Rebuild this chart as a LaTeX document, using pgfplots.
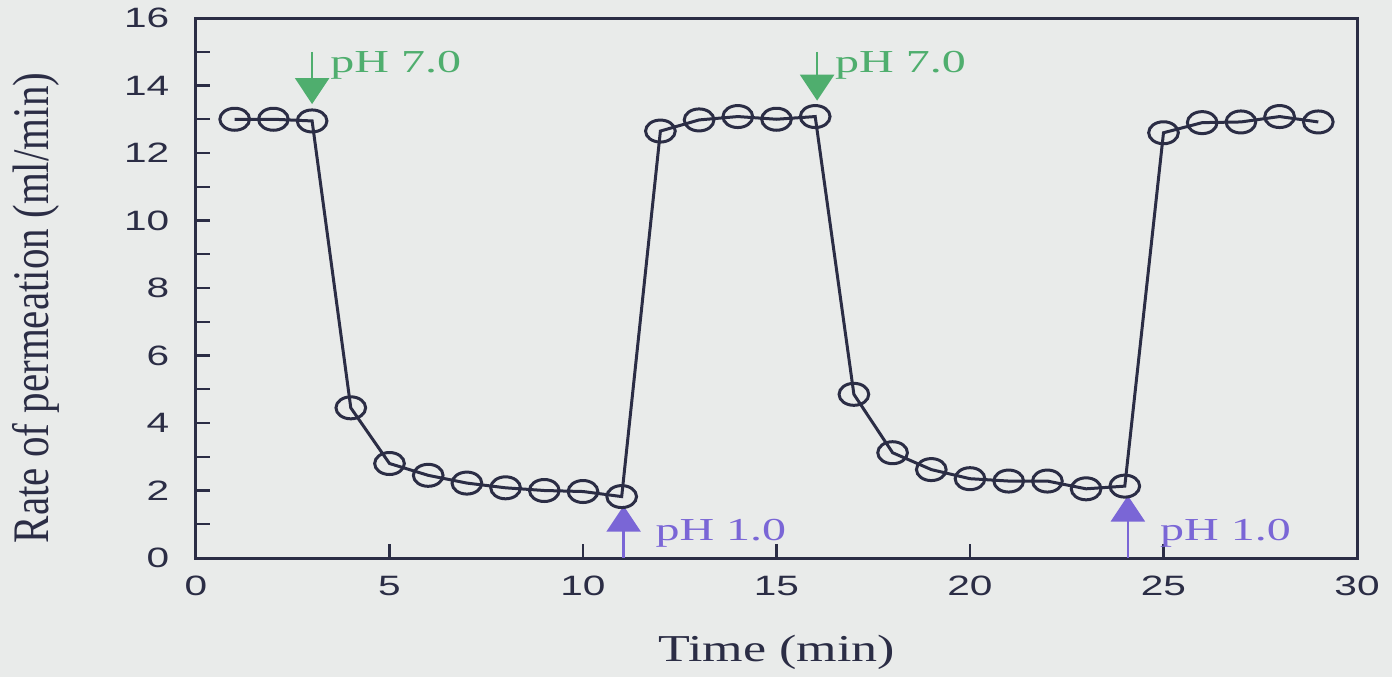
\documentclass[border=0pt]{standalone}
\usepackage{pgfplots}
\pgfplotsset{compat=1.18}
\usetikzlibrary{arrows.meta}
\usepackage{fontspec}
\setmainfont{Liberation Serif}
\newfontfamily\tickfont{Liberation Sans}
\definecolor{bg}{HTML}{E9EBEA}
\definecolor{ink}{HTML}{2B2D45}
\definecolor{grn}{HTML}{4FAE6E}
\definecolor{prp}{HTML}{7A66D6}
\begin{document}
\begin{tikzpicture}
\path[use as bounding box, fill=bg] (-98pt,-59.5pt) rectangle (598pt,279pt);
\begin{axis}[at={(0,0)}, anchor=south west, scale only axis,
  width=580.5pt, height=270pt,
  xmin=0, xmax=30, ymin=0, ymax=16,
  xtick={0,5,...,30}, ytick={0,2,...,16}, minor ytick={1,3,...,15},
  tick pos=left, tick align=inside,
  major tick length=7pt, minor tick length=7pt,
  axis line style={ink, line width=1.5pt},
  every tick/.style={ink, line width=1.2pt},
  /pgf/number format/assume math mode=true,
  ticklabel style={font=\tickfont\fontsize{14}{16}\selectfont, text=ink, xscale=1.45},
  yticklabel style={anchor=east, inner sep=0pt, xshift=-9pt},
  xticklabel style={anchor=north, inner sep=0pt, yshift=-9pt},
  xlabel={Time (min)},
  ylabel={\scalebox{1}[1.25]{Rate of permeation (ml/min)}},
  xlabel style={font=\fontsize{19}{22}\selectfont, xscale=1.37, text=ink,
    at={(axis description cs:0.5,-0.175)}, anchor=center},
  ylabel style={font=\fontsize{20.5}{24}\selectfont, text=ink,
    at={(axis description cs:-0.138,0.463)}, anchor=center},
]
\addplot[ink, line width=1.5pt, mark=o, mark size=5.5pt,
  mark options={ink, line width=1.5pt, fill=bg, xscale=1.35}]
  coordinates {
  (1,13.0) (2,13.0) (3,12.95) (4,4.45) (5,2.8) (6,2.45) (7,2.22) (8,2.08)
  (9,2.0) (10,1.97) (11,1.82) (12,12.65) (13,12.98) (14,13.08) (15,13.0)
  (16,13.08) (17,4.85) (18,3.12) (19,2.62) (20,2.35) (21,2.28) (22,2.28)
  (23,2.05) (24,2.13) (25,12.6) (26,12.9) (27,12.92) (28,13.08) (29,12.92)
  };
\draw[grn, line width=1.2pt, -{Triangle[width=17pt,length=13pt]}] (axis cs:3,15.0) -- (axis cs:3,13.45);
\draw[grn, line width=1.2pt, -{Triangle[width=17pt,length=13pt]}] (axis cs:16.05,15.0) -- (axis cs:16.05,13.55);
\draw[prp, line width=1.2pt, -{Triangle[width=17pt,length=13pt]}] (axis cs:11.05,0) -- (axis cs:11.05,1.55);
\draw[prp, line width=1.2pt, -{Triangle[width=17pt,length=13pt]}] (axis cs:24.08,0) -- (axis cs:24.08,1.85);
\node[grn, anchor=base west, inner sep=0pt, font=\fontsize{16}{18}\selectfont, xscale=1.5] at (axis cs:3.46,14.38) {pH 7.0};
\node[grn, anchor=base west, inner sep=0pt, font=\fontsize{16}{18}\selectfont, xscale=1.5] at (axis cs:16.5,14.38) {pH 7.0};
\node[prp, anchor=base west, inner sep=0pt, font=\fontsize{16}{18}\selectfont, xscale=1.5] at (axis cs:11.86,0.53) {pH 1.0};
\node[prp, anchor=base west, inner sep=0pt, font=\fontsize{16}{18}\selectfont, xscale=1.5] at (axis cs:24.9,0.53) {pH 1.0};
\end{axis}
\end{tikzpicture}
\end{document}
